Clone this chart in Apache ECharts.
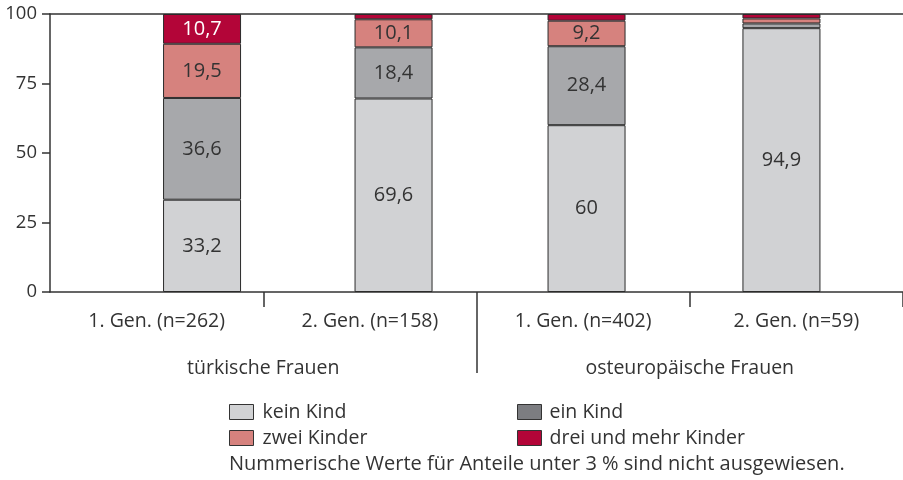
<!DOCTYPE html>
<html><head><meta charset="utf-8">
<script src="https://cdn.jsdelivr.net/npm/echarts@6/dist/echarts.min.js"></script>
<style>html,body{margin:0;padding:0;background:#fff}#c{width:903px;height:480px}</style>
</head><body><div id="c"></div>
<script>
// ---- data ----
const categories = ['1. Gen. (n=262)', '2. Gen. (n=158)', '1. Gen. (n=402)', '2. Gen. (n=59)'];
const groups = ['türkische Frauen', 'osteuropäische Frauen'];
const seriesNames = ['kein Kind', 'ein Kind', 'zwei Kinder', 'drei und mehr Kinder'];
const keinKind = [33.2, 69.6, 60, 94.9];
const einKind = [36.6, 18.4, 28.4, 1.7];
const zweiKinder = [19.5, 10.1, 9.2, 1.8];
const dreiUndMehr = [10.7, 1.9, 2.4, 1.6];
const yTicks = [0, 25, 50, 75, 100];
const note = 'Nummerische Werte für Anteile unter 3 % sind nicht ausgewiesen.';

// ---- layout / style ----
const barCenters = [0.713, 1.611, 2.516, 3.43]; // bar centres in category-band units
const FONT = 'Open Sans';
const TXT = '#333';
const colors = ['#d1d2d4', '#a7a8ab', '#d6827e', '#b30538'];
const values = [keinKind, einKind, zweiKinder, dreiUndMehr];

const series = values.map((arr, i) => ({
  type: 'bar',
  name: seriesNames[i],
  stack: 'total',
  xAxisIndex: 1,
  yAxisIndex: 0,
  barWidth: 78,
  encode: { x: 1, y: 0 },
  data: arr.map((v, j) => [v, barCenters[j]]),
  itemStyle: { color: colors[i], borderColor: '#2b2b2b', borderWidth: 1 },
  label: {
    show: true, position: 'inside', fontFamily: FONT, fontSize: 20,
    color: i === 3 ? '#fff' : TXT,
    formatter: p => p.value[0] >= 3 ? String(p.value[0]).replace('.', ',') : ''
  },
  emphasis: { disabled: true },
  silent: true
}));

const legendBase = {
  orient: 'vertical', top: 402, icon: 'rect',
  itemWidth: 24, itemHeight: 15, itemGap: 6, padding: 0, selectedMode: false,
  itemStyle: { borderColor: '#333', borderWidth: 1 }
};

const chart = echarts.init(document.getElementById('c'), null, { renderer: 'canvas' });
chart.setOption({
  animation: false,
  textStyle: { fontFamily: FONT },
  grid: [
    { left: 50, right: 0, top: 14, bottom: 188 },
    { left: 50, right: 0, top: 292, height: 81 }
  ],
  xAxis: [
    {
      type: 'category', gridIndex: 0, data: categories, position: 'bottom',
      axisLine: { show: true, lineStyle: { color: TXT, width: 1.5 } },
      axisTick: { show: true, length: 15, interval: (i) => i === 1 || i === 3, lineStyle: { color: TXT, width: 1.5 } },
      axisLabel: { interval: 0, margin: 19, fontSize: 19.5, color: TXT, fontFamily: FONT },
      splitLine: { show: false }
    },
    {
      type: 'value', gridIndex: 0, min: 0, max: 4, position: 'top',
      axisLine: { show: true, onZero: false, lineStyle: { color: TXT, width: 1.5 } },
      axisTick: { show: false }, axisLabel: { show: false }, splitLine: { show: false }
    },
    {
      type: 'category', gridIndex: 1, data: groups, position: 'top',
      axisLine: { show: false }, axisTick: { show: false },
      axisLabel: { inside: true, margin: 66, fontSize: 19.5, color: TXT, fontFamily: FONT },
      splitLine: { show: true, showMinLine: false, showMaxLine: false, lineStyle: { color: TXT, width: 1.5 } }
    }
  ],
  yAxis: [
    {
      type: 'value', gridIndex: 0, min: yTicks[0], max: yTicks[yTicks.length - 1], interval: 25,
      axisLine: { show: true, onZero: false, lineStyle: { color: TXT, width: 1.5 } },
      axisTick: { show: true, length: 8, lineStyle: { color: TXT, width: 1.5 } },
      axisLabel: { fontSize: 18.5, color: TXT, margin: 13, fontFamily: FONT },
      splitLine: { show: false }
    },
    { type: 'value', gridIndex: 1, show: false }
  ],
  legend: [
    Object.assign({}, legendBase, {
      data: [seriesNames[0], seriesNames[2]], left: 229,
      textStyle: { fontSize: 19.5, color: TXT, fontFamily: FONT, padding: [0, 0, 0, 4] }
    }),
    Object.assign({}, legendBase, {
      data: [{ name: seriesNames[1], itemStyle: { color: '#7c7d81' } }, seriesNames[3]], left: 517,
      textStyle: { fontSize: 19.5, color: TXT, fontFamily: FONT, padding: [0, 0, 0, 3] }
    })
  ],
  title: {
    text: note, left: 229, top: 454, padding: 0,
    textStyle: { fontSize: 20, fontWeight: 'normal', color: TXT, fontFamily: FONT }
  },
  series: series
});
</script>
</body></html>
